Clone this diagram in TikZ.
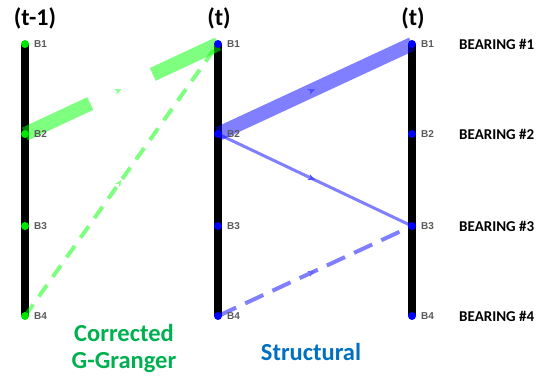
\documentclass[tikz,border=0pt]{standalone}
\usepackage{fontspec}
\setmainfont{Carlito}
\newfontfamily\arialf{Liberation Sans}
\usetikzlibrary{decorations.markings,arrows.meta}
\definecolor{gdot}{RGB}{0,230,0}
\definecolor{bdot}{RGB}{0,0,255}
\definecolor{gtxt}{RGB}{0,176,80}
\definecolor{btxt}{RGB}{0,112,192}
\tikzset{
  bar/.style={line width=8pt, black},
  gpt/.style={circle, fill=gdot, inner sep=0pt, minimum size=8pt},
  bpt/.style={circle, fill=bdot, inner sep=0pt, minimum size=8pt},
  blab/.style={font=\arialf\bfseries\fontsize{10}{11}\selectfont, text=black!65, anchor=west, inner sep=0pt},
  ttl/.style={font=\bfseries\fontsize{24}{26}\selectfont},
  bear/.style={font=\bfseries\fontsize{15}{16}\selectfont, anchor=west, inner sep=0pt},
  captxt/.style={font=\bfseries\fontsize{24.5}{27}\selectfont},
  midarrow/.style={postaction={decorate, decoration={markings, mark=at position 0.5 with {\arrow[#1]{Stealth[length=7pt,width=6pt]}}}}},
  gedge/.style={draw=green, draw opacity=0.5},
  bedge/.style={draw=blue, draw opacity=0.5},
}
\begin{document}
\begin{tikzpicture}[x=1pt,y=-1pt]
\useasboundingbox (0,0) rectangle (551,375);
% bars
\foreach \n/\x in {L/25, M/218, R/412}{
  \coordinate (\n1) at (\x,44);
  \coordinate (\n2) at (\x,134);
  \coordinate (\n3) at (\x,226);
  \coordinate (\n4) at (\x,316);
  \draw[bar] (\n1) -- (\n4);
}
% titles
\node[ttl] (tL) at (35,18) {(t-1)};
\node[ttl] (tM) at (219,18) {(t)};
\node[ttl] (tR) at (413,18) {(t)};
% edges green
\draw[gedge, line width=14pt, dash pattern=on 72pt off 69pt] (L2) -- (M1);
\path (L2) -- (M1) [midarrow={green!50!white}] ;
\draw[gedge, line width=4pt, dash pattern=on 14pt off 10pt] (L4) -- (M1);
\path (L4) -- (M1) [midarrow={green!50!white}] ;
% edges blue
\draw[bedge, line width=14pt] (M2) -- (R1);
\path (M2) -- (R1) [midarrow={blue!70!white}] ;
\draw[bedge, line width=3pt] (M2) -- (R3);
\path (M2) -- (R3) [midarrow={blue!70!white}] ;
\draw[bedge, line width=4pt, dash pattern=on 20pt off 10pt] (M4) -- (R3);
\path (M4) -- (R3) [midarrow={blue!60!white}] ;
% dots and labels
\foreach \i in {1,2,3,4}{
  \node[gpt] (gL\i) at (L\i) {};
  \node[bpt] (bM\i) at (M\i) {};
  \node[bpt] (bR\i) at (R\i) {};
  \node[blab] (lL\i) at ([xshift=9pt]L\i) {B\i};
  \node[blab] (lM\i) at ([xshift=9pt]M\i) {B\i};
  \node[blab] (lR\i) at ([xshift=9pt]R\i) {B\i};
  \node[bear] (br\i) at ([xshift=47pt]R\i) {BEARING \#\i};
}
% captions
\node[captxt, text=gtxt, align=center] (cg) at (124,348) {Corrected\\G-Granger};
\node[captxt, text=btxt] (cs) at (311,352) {Structural};
\end{tikzpicture}
\end{document}
